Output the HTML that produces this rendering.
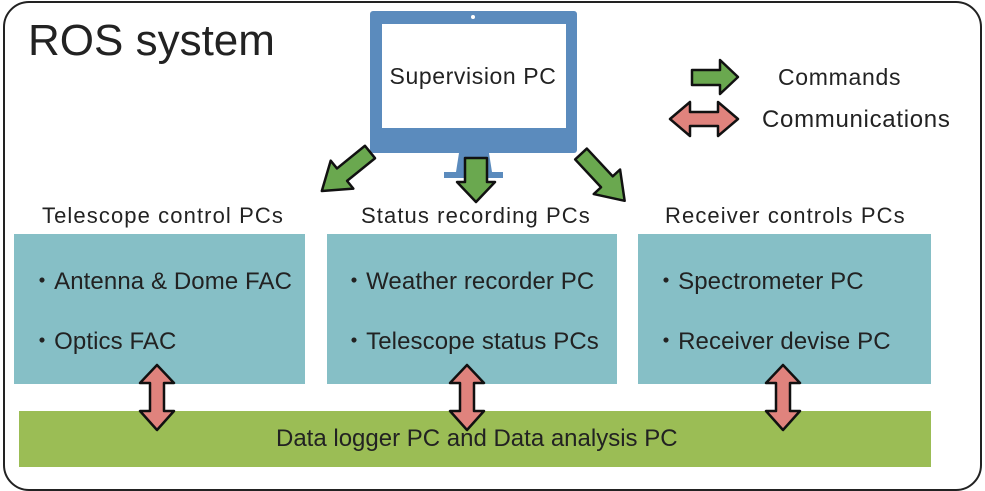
<!DOCTYPE html>
<html><head><style>
body{margin:0;width:985px;height:491px;background:#fff;font-family:"Liberation Sans",sans-serif;color:#222;position:relative;overflow:hidden}
.a{position:absolute}
.box{position:absolute;background:#86bfc6;top:234px;height:150px}
.t{position:absolute;font-size:22px;white-space:nowrap;letter-spacing:1.1px}
.b{font-size:24px;letter-spacing:0.1px}
</style></head><body>
<div class="a" style="left:3px;top:1px;width:975px;height:486px;border:2px solid #222;border-radius:26px"></div>
<div class="t" style="left:28px;top:16px;font-size:44px;letter-spacing:0">ROS system</div>
<div class="box" style="left:14px;width:291px"></div>
<div class="box" style="left:327px;width:290px"></div>
<div class="box" style="left:638px;width:293px"></div>
<div class="a" style="left:19px;top:411px;width:912px;height:56px;background:#9bbd55"></div>
<div class="t" style="left:42px;top:203px">Telescope control PCs</div>
<div class="t" style="left:361px;top:203px">Status recording PCs</div>
<div class="t" style="left:665px;top:203px">Receiver controls PCs</div>
<div class="t b" style="left:30px;top:261px">・Antenna &amp; Dome FAC</div>
<div class="t b" style="left:30px;top:321px">・Optics FAC</div>
<div class="t b" style="left:342px;top:261px">・Weather recorder PC</div>
<div class="t b" style="left:342px;top:321px">・Telescope status PCs</div>
<div class="t b" style="left:654px;top:261px">・Spectrometer PC</div>
<div class="t b" style="left:654px;top:321px">・Receiver devise PC</div>
<div class="t" style="left:276px;top:425px;font-size:24px;letter-spacing:0">Data logger PC and Data analysis PC</div>
<div class="t" style="left:778px;top:64px;font-size:23px;letter-spacing:0.7px">Commands</div>
<div class="t" style="left:762px;top:106px;font-size:24px;letter-spacing:0.7px">Communications</div>
<svg class="a" style="left:0;top:0" width="985" height="491">
<rect x="370" y="11" width="207" height="142" rx="3" fill="#5b8bbd"/>
<rect x="382" y="24" width="184" height="104" fill="#fff"/>
<circle cx="473" cy="17" r="2" fill="#fff"/>
<polygon points="459,153 489,153 492,172 456,172" fill="#5b8bbd"/>
<rect x="444" y="172" width="59" height="6" fill="#5b8bbd"/>
<text x="473" y="84" font-size="23" letter-spacing="0.6" text-anchor="middle" fill="#222" font-family="Liberation Sans">Supervision PC</text>
<g fill="#6aa84f" stroke="#111" stroke-width="2.5" stroke-linejoin="round">
<polygon points="465,158 487,158 487,182 495,182 476,202 457,182 465,182"/>
<g transform="translate(370,152) rotate(141)"><polygon points="0,-8 36,-8 36,-18 62,0 36,18 36,8 0,8"/></g>
<g transform="translate(581,154) rotate(47)"><polygon points="0,-8 38,-8 38,-18 64,0 38,18 38,8 0,8"/></g>
<polygon points="692,70 720,70 720,60 738,77 720,94 720,85 692,85"/>
</g>
<g fill="#e0837d" stroke="#111" stroke-width="2.5" stroke-linejoin="round">
<polygon points="670,119 690,102 690,112 718,112 718,102 738,119 718,136 718,126 690,126 690,136"/>
<polygon points="157,365 174,383 164,383 164,411 174,411 157,430 140,411 150,411 150,383 140,383"/>
<polygon points="467,365 484,383 474,383 474,411 484,411 467,430 450,411 460,411 460,383 450,383"/>
<polygon points="783,365 800,383 790,383 790,411 800,411 783,430 766,411 776,411 776,383 766,383"/>
</g>
</svg>
</body></html>
